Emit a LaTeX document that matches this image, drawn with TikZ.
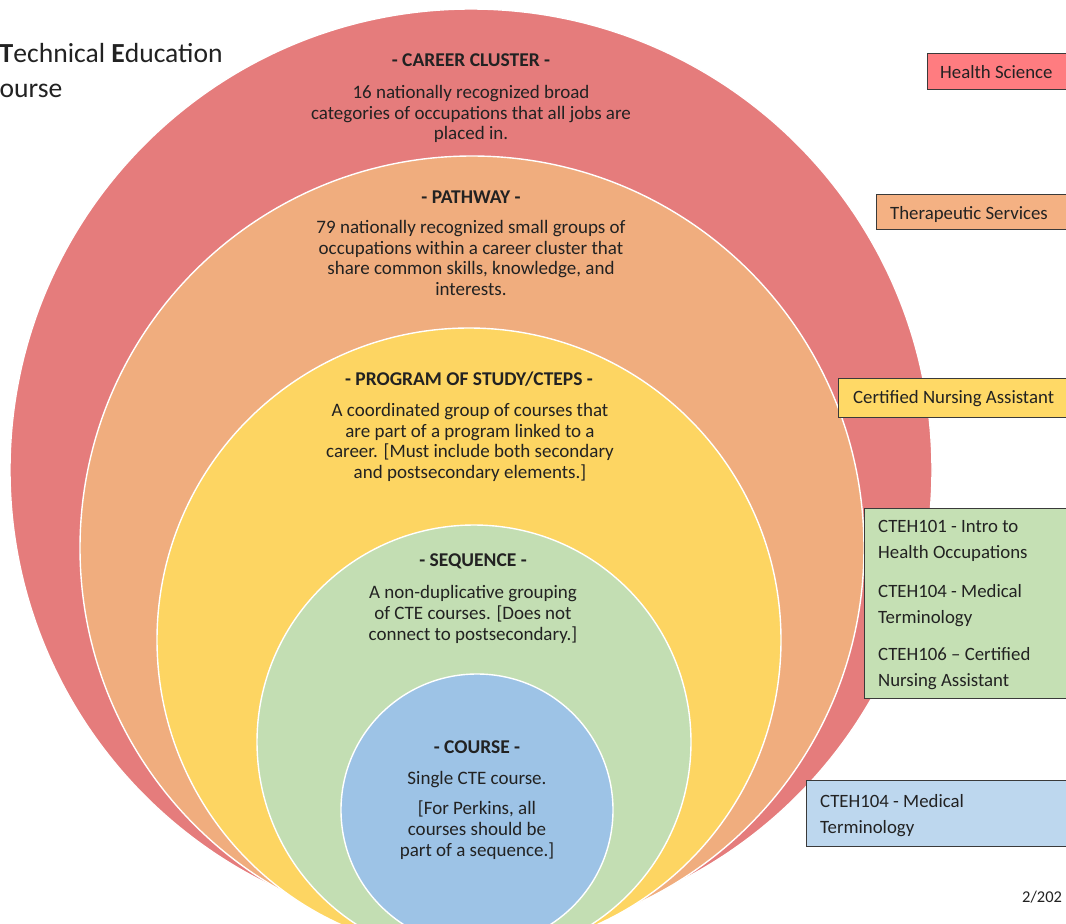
\documentclass[tikz,border=0pt]{standalone}
\usepackage{fontspec}
\setmainfont{Carlito}
\definecolor{cRed}{HTML}{E57C7C}
\definecolor{cOrange}{HTML}{F0AD7E}
\definecolor{cYellow}{HTML}{FDD562}
\definecolor{cGreen}{HTML}{C3DEB3}
\definecolor{cBlue}{HTML}{9DC3E6}
\definecolor{bRed}{HTML}{FF7C80}
\definecolor{bOrange}{HTML}{F4B183}
\definecolor{bYellow}{HTML}{FFD966}
\definecolor{bGreen}{HTML}{C5E0B4}
\definecolor{bBlue}{HTML}{BDD7EE}
\definecolor{ink}{HTML}{222222}
\definecolor{edge}{HTML}{3A3A3A}
\tikzset{
  ring/.style={draw=white, line width=1.4pt},
  ctitle/.style={font=\fontsize{19.5}{22}\selectfont\bfseries, text=ink, inner sep=0pt},
  cbody/.style={font=\fontsize{19}{20.8}\selectfont, text=ink, align=center, inner sep=0pt},
  tagbox/.style={draw=edge, line width=1.2pt, inner sep=0pt, anchor=north west},
  tagtext/.style={font=\fontsize{18.8}{26}\selectfont, text=ink, inner sep=0pt, anchor=west, align=left},
}
\begin{document}
\begin{tikzpicture}[x=1pt,y=-1pt]
\path[use as bounding box] (0,0) rectangle (1066,924);
\clip (0,0) rectangle (1066,924);
\fill[white] (0,0) rectangle (1066,924);
% nested circles
\filldraw[ring, fill=cRed] (471,470) circle[radius=461pt];
\filldraw[ring, fill=cOrange] (472,548) circle[radius=392pt];
\filldraw[ring, fill=cYellow] (469,640) circle[radius=312pt];
\filldraw[ring, fill=cGreen] (474,742) circle[radius=217pt];
\filldraw[ring, fill=cBlue] (477,810) circle[radius=136pt];
% heading (cut at left)
\node[font=\fontsize{27.6}{35}\selectfont, text=ink, anchor=west, align=left, inner sep=0pt] (head) at (-0.5,71)
  {\textbf{T}echnical \textbf{E}ducation\\ourse};
% circle texts
\node[ctitle] (t1) at (471,60) {- CAREER CLUSTER -};
\node[cbody, anchor=north] (b1) at (471,85) {16 nationally recognized broad\\categories of occupations that all jobs are\\placed in.};
\node[ctitle] (t2) at (471,197) {- PATHWAY -};
\node[cbody, anchor=north] (b2) at (471,220) {79 nationally recognized small groups of\\occupations within a career cluster that\\share common skills, knowledge, and\\interests.};
\node[ctitle] (t3) at (469,379) {- PROGRAM OF STUDY/CTEPS -};
\node[cbody, anchor=north] (b3) at (470,403) {A coordinated group of courses that\\are part of a program linked to a\\career. [Must include both secondary\\and postsecondary elements.]};
\node[ctitle] (t4) at (473,561) {- SEQUENCE -};
\node[cbody, anchor=north] (b4) at (473,585) {A non-duplicative grouping\\of CTE courses. [Does not\\connect to postsecondary.]};
\node[ctitle] (t5) at (477,747) {- COURSE -};
\node[cbody, anchor=north] (b5a) at (477,771) {Single CTE course.};
\node[cbody, anchor=north] (b5b) at (477,801) {[For Perkins, all\\courses should be\\part of a sequence.]};
% right-hand tags
\node[tagbox, fill=bRed, minimum width=160pt, minimum height=36pt] (r1) at (927,53) {};
\node[tagtext] (r1t) at (940,72.5) {Health Science};
\node[tagbox, fill=bOrange, minimum width=210pt, minimum height=35pt] (r2) at (876,194) {};
\node[tagtext] (r2t) at (890,214) {Therapeutic Services};
\node[tagbox, fill=bYellow, minimum width=250pt, minimum height=39pt] (r3) at (838,378) {};
\node[tagtext] (r3t) at (853,398.5) {Certified Nursing Assistant};
\node[tagbox, fill=bGreen, minimum width=230pt, minimum height=190pt] (r4) at (864,508) {};
\node[tagtext, anchor=north west] (r4a) at (878,520) {CTEH101 - Intro to\\Health Occupations};
\node[tagtext, anchor=north west] (r4b) at (878,584) {CTEH104 - Medical\\Terminology};
\node[tagtext, anchor=north west] (r4c) at (878,647.5) {CTEH106 – Certified\\Nursing Assistant};
\node[tagbox, fill=bBlue, minimum width=290pt, minimum height=66pt] (r5) at (806,780) {};
\node[tagtext, anchor=north west] (r5t) at (820,794) {CTEH104 - Medical\\Terminology};
\node[font=\fontsize{16.5}{18}\selectfont, text=ink, anchor=west, inner sep=0pt] (date) at (1022,897) {2/202};
\end{tikzpicture}
\end{document}
